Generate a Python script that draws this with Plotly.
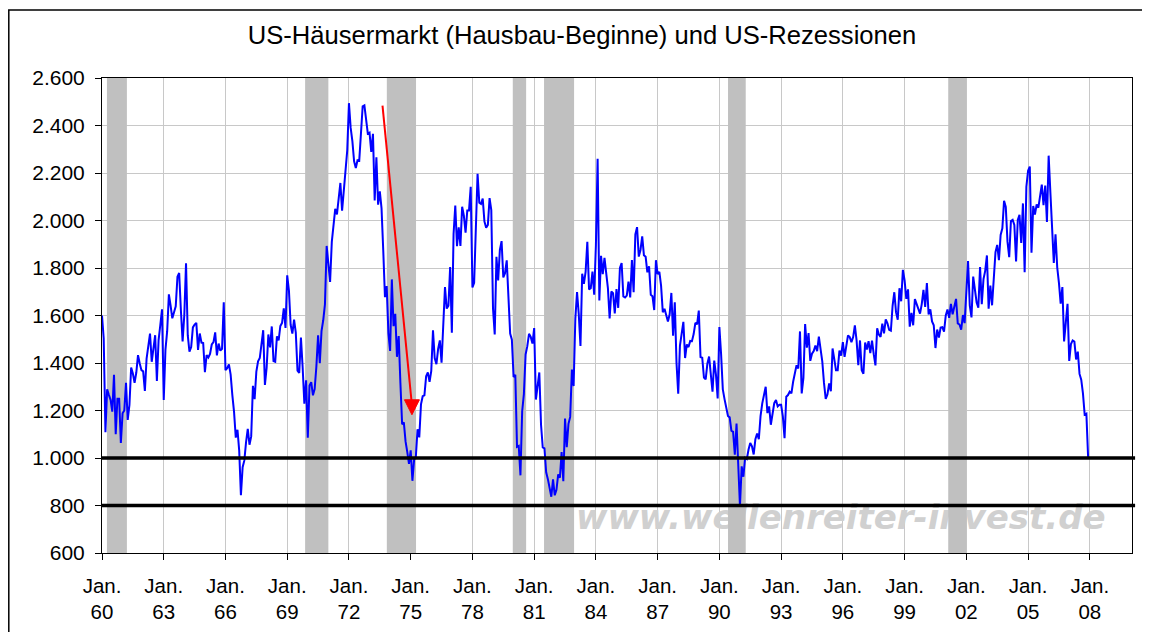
import plotly.graph_objects as go

# ---------------- data (US housing starts, thousands, monthly, Jan 1960 - Dec 2007) ----------------
starts_1960s = [
    1600, 1503, 1109, 1289, 1266, 1245, 1195, 1350, 1100, 1250, 1250, 1063,
    1188, 1200, 1317, 1160, 1223, 1381, 1356, 1317, 1360, 1433, 1398, 1370,
    1365, 1282, 1419, 1470, 1524, 1405, 1461, 1517, 1324, 1496, 1560, 1626,
    1244, 1456, 1534, 1689, 1641, 1588, 1614, 1639, 1763, 1779, 1622, 1491,
    1603, 1820, 1517, 1448, 1467, 1550, 1562, 1569, 1455, 1524, 1486, 1484,
    1361, 1433, 1423, 1438, 1478, 1488, 1529, 1432, 1482, 1452, 1460, 1656,
    1370, 1378, 1394, 1352, 1265, 1194, 1086, 1119, 1031, 843, 961, 990,
    1067, 1123, 1056, 1091, 1304, 1248, 1364, 1407, 1421, 1491, 1538, 1308,
    1380, 1520, 1466, 1554, 1408, 1405, 1512, 1495, 1556, 1569, 1630, 1548,
    1769, 1705, 1561, 1524, 1583, 1528, 1368, 1358, 1507, 1381, 1229, 1327,
]
starts_1970s = [
    1085, 1305, 1319, 1264, 1290, 1385, 1517, 1399, 1534, 1580, 1647, 1893,
    1828, 1741, 1910, 1986, 2049, 2026, 2083, 2158, 2041, 2128, 2182, 2295,
    2494, 2390, 2334, 2249, 2221, 2254, 2252, 2382, 2481, 2485, 2421, 2366,
    2370, 2289, 2365, 2084, 2266, 2067, 2123, 2051, 1874, 1677, 1724, 1526,
    1451, 1752, 1555, 1607, 1426, 1513, 1316, 1142, 1150, 1070, 1026, 975,
    1032, 904, 993, 1005, 1121, 1087, 1226, 1260, 1264, 1344, 1360, 1321,
    1367, 1538, 1421, 1395, 1459, 1495, 1401, 1550, 1720, 1629, 1641, 1804,
    1527, 1943, 2063, 1892, 1971, 1893, 2058, 2020, 1949, 2042, 2042, 2142,
    1718, 1738, 2032, 2197, 2075, 2070, 2092, 1996, 1970, 1981, 2094, 2044,
    1630, 1520, 1847, 1748, 1876, 1913, 1760, 1778, 1832, 1681, 1524, 1498,
]
starts_1980s = [
    1341, 1350, 1047, 1051, 927, 1196, 1269, 1436, 1471, 1523, 1510, 1482,
    1547, 1246, 1306, 1360, 1140, 1045, 1041, 940, 911, 873, 837, 910,
    843, 866, 931, 917, 1025, 902, 1166, 1046, 1144, 1173, 1372, 1303,
    1586, 1699, 1606, 1472, 1776, 1733, 1785, 1910, 1710, 1715, 1785, 1688,
    1897, 2260, 1663, 1851, 1774, 1843, 1780, 1715, 1588, 1701, 1694, 1609,
    1711, 1632, 1800, 1821, 1680, 1676, 1684, 1743, 1676, 1834, 1698, 1942,
    1972, 1848, 1876, 1933, 1854, 1847, 1782, 1807, 1687, 1681, 1623, 1833,
    1774, 1784, 1726, 1614, 1628, 1594, 1575, 1605, 1695, 1515, 1656, 1400,
    1271, 1473, 1532, 1573, 1421, 1478, 1467, 1493, 1492, 1522, 1569, 1563,
    1621, 1425, 1422, 1339, 1331, 1397, 1427, 1332, 1279, 1410, 1351, 1251,
]
starts_1990s = [
    1551, 1437, 1289, 1248, 1212, 1177, 1171, 1115, 1110, 1014, 1145, 969,
    798, 965, 921, 1001, 996, 1036, 1063, 1049, 1015, 1079, 1103, 1079,
    1176, 1230, 1272, 1300, 1189, 1217, 1140, 1189, 1231, 1244, 1217, 1224,
    1224, 1175, 1083, 1258, 1265, 1279, 1272, 1321, 1356, 1391, 1377, 1533,
    1272, 1337, 1564, 1465, 1526, 1409, 1439, 1450, 1474, 1450, 1511, 1455,
    1407, 1316, 1249, 1267, 1314, 1281, 1461, 1416, 1369, 1369, 1452, 1431,
    1488, 1426, 1481, 1516, 1509, 1488, 1509, 1558, 1495, 1391, 1495, 1370,
    1355, 1486, 1457, 1492, 1442, 1494, 1437, 1390, 1546, 1520, 1510, 1566,
    1525, 1584, 1567, 1540, 1536, 1641, 1698, 1614, 1582, 1715, 1660, 1792,
    1748, 1670, 1710, 1553, 1611, 1559, 1669, 1648, 1635, 1608, 1648, 1708,
]
starts_2000s = [
    1636, 1737, 1604, 1626, 1575, 1559, 1463, 1541, 1507, 1549, 1551, 1532,
    1600, 1625, 1590, 1649, 1605, 1636, 1670, 1567, 1562, 1540, 1602, 1568,
    1698, 1829, 1642, 1592, 1764, 1717, 1655, 1633, 1804, 1648, 1753, 1788,
    1853, 1629, 1726, 1643, 1751, 1867, 1897, 1833, 1939, 1967, 2083, 2057,
    1911, 1846, 1998, 2003, 1981, 1828, 2002, 2024, 1905, 2072, 1782, 2142,
    2210, 2227, 1864, 2061, 2025, 2068, 2054, 2095, 2151, 2065, 2147, 1994,
    2273, 2119, 1969, 1821, 1942, 1802, 1737, 1650, 1720, 1491, 1570, 1649,
    1409, 1480, 1495, 1490, 1415, 1448, 1354, 1330, 1272, 1183, 1187, 1004,
]
first_year = 1960

# recession periods (decimal years, as drawn)
rec_start = [1960.24, 1969.87, 1973.84, 1979.96, 1981.48, 1990.42, 2001.12]
rec_end = [1961.21, 1971.00, 1975.26, 1980.61, 1982.94, 1991.28, 2002.01]

ref_levels = [1000, 800]

tick_years = list(range(1960, 2009, 3))
tick_labels = ["Jan.<br>%02d" % (y % 100) for y in tick_years]
y_ticks = list(range(600, 2601, 200))

x_range = [1960, 2010.05]
y_range = [600, 2600]

arrow_from = (1973.63, 2484)
arrow_to = (1975.06, 1182)

watermark_text = "www.wellenreiter-invest.de"
watermark_pos = (1995.9, 738)

title_text = "US-Häusermarkt (Hausbau-Beginne) und US-Rezessionen"

# ---------------- figure ----------------
values = starts_1960s + starts_1970s + starts_1980s + starts_1990s + starts_2000s
xs = [first_year + i / 12.0 for i in range(len(values))]

# the html page adds an 8px body margin; the figure is sized to fit inside it
W, H = 1142, 624
ML, MR, MT, MB = 94, 18, 70, 79
PW, PH = W - ML - MR, H - MT - MB

fig = go.Figure()

# watermark (below recession bands)
fig.add_trace(go.Scatter(
    x=[watermark_pos[0]], y=[watermark_pos[1]], mode="text", text=[watermark_text],
    textposition="middle center",
    textfont=dict(family="DejaVu Sans", size=34, color="#d0d0d0", style="italic", weight="bold"),
    hoverinfo="skip", showlegend=False,
))

# recession bands
bx, by = [], []
for s, e in zip(rec_start, rec_end):
    bx += [s, s, e, e, s, None]
    by += [y_range[0], y_range[1], y_range[1], y_range[0], y_range[0], None]
fig.add_trace(go.Scatter(
    x=bx, y=by, mode="lines", fill="toself", fillcolor="#c0c0c0",
    line=dict(width=0, color="#c0c0c0"), hoverinfo="skip", showlegend=False,
))

# housing starts
fig.add_trace(go.Scatter(
    x=xs, y=values, mode="lines", line=dict(color="#0000ff", width=2),
    showlegend=False, hovertemplate="%{y}<extra></extra>",
))

shapes = []
for lvl in ref_levels:
    shapes.append(dict(type="line", xref="paper", yref="y", x0=0, x1=1.003, y0=lvl, y1=lvl,
                       line=dict(color="black", width=3.5), layer="above"))
# red arrow
shapes.append(dict(type="line", xref="x", yref="y", x0=arrow_from[0], y0=arrow_from[1],
                   x1=arrow_to[0], y1=arrow_to[1] + 40, line=dict(color="#ff0000", width=2), layer="above"))
shapes.append(dict(type="path", xref="x", yref="y", xsizemode="pixel", ysizemode="pixel",
                   xanchor=arrow_to[0], yanchor=arrow_to[1],
                   path="M-7.5,15 L7.5,15 L0,0 Z", fillcolor="#ff0000",
                   line=dict(color="#ff0000", width=1), layer="above"))
# outer chart frame
shapes.append(dict(type="rect", xref="paper", yref="paper",
                   x0=(0.8 - ML) / PW, x1=(1135 - ML) / PW,
                   y0=(H - MB - 645) / PH, y1=(H - MB - 2) / PH,
                   line=dict(color="black", width=1.5), fillcolor="rgba(0,0,0,0)", layer="above"))

fig.update_layout(
    width=W, height=H,
    margin=dict(l=ML, r=MR, t=MT, b=MB, pad=0),
    paper_bgcolor="white", plot_bgcolor="white",
    template="none",
    separators=",.",
    showlegend=False,
    title=dict(text=title_text, x=574 / W, xref="container", xanchor="center",
               y=1 - 27 / H, yref="container", yanchor="middle",
               font=dict(family="Liberation Sans, Arial, sans-serif", size=25.6, color="black")),
    shapes=shapes,
    xaxis=dict(range=x_range, tickvals=tick_years, ticktext=tick_labels,
               showgrid=True, gridcolor="#c8c8c8", gridwidth=1,
               showline=True, mirror=True, linecolor="black", linewidth=1,
               ticks="outside", ticklen=6, tickcolor="black", tickwidth=1,
               tickfont=dict(family="Liberation Sans, Arial, sans-serif", size=20.5, color="black"),
               ticklabelstandoff=8, zeroline=False, automargin=False, fixedrange=True),
    yaxis=dict(range=y_range, tickvals=y_ticks, tickformat=",d",
               showgrid=True, gridcolor="#c8c8c8", gridwidth=1,
               showline=True, mirror=True, linecolor="black", linewidth=1,
               ticks="outside", ticklen=6, tickcolor="black", tickwidth=1,
               tickfont=dict(family="Liberation Sans, Arial, sans-serif", size=21, color="black"),
               ticklabelstandoff=6, zeroline=False, automargin=False, fixedrange=True),
)

fig.write_html("out.html", config={"displayModeBar": False})
